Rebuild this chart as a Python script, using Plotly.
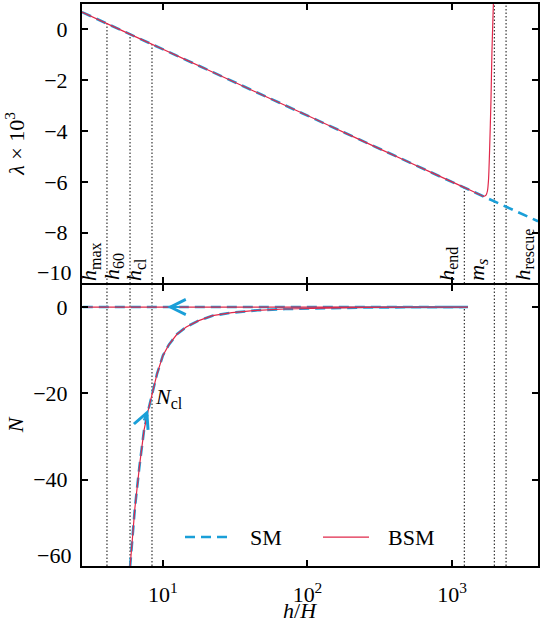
import numpy as np
import plotly.graph_objects as go
from plotly.subplots import make_subplots

# top panel: quartic coupling lambda x 10^3 vs h/H
h_sm = [2.75, 5, 10, 20, 50, 100, 200, 500, 1000, 2000, 3940]
lam_sm = [0.68, 0.0, -0.78, -1.57, -2.61, -3.39, -4.18, -5.22, -6.0, -6.79, -7.55]

h_bsm = [2.75, 5, 10, 20, 50, 100, 200, 500, 1000, 1400, 1550, 1650,
         1720, 1760, 1790, 1820, 1860, 1890, 1935]
lam_bsm = [0.68, 0.0, -0.78, -1.57, -2.61, -3.39, -4.18, -5.22, -6.0, -6.38,
           -6.50, -6.57, -6.52, -6.35, -5.9, -4.77, -2.81, -0.85, 1.1]

# bottom panel: e-folds N along the trajectory (same for SM and BSM)
h_n = [5.8, 5.92, 6.4, 6.9, 7.4, 7.9, 8.4, 9.1, 10.0, 11.0, 12.5, 14.5,
       17.5, 22, 30, 45, 70, 120, 250, 600, 1290, 2.75]
N_n = [-64, -60, -46.5, -36.5, -28.5, -24.0, -20.5, -15.5, -11.2, -8.7,
       -6.3, -4.6, -3.2, -2.0, -1.3, -0.75, -0.45, -0.25, -0.1, -0.04, 0, 0]

# marked scales
SUB = '<sub><span style="font-size:16px">%s</span></sub>'
vline_h = [4.1, 5.92, 8.4, 1217, 1963, 2366]
vline_labels = ["<i>h</i>" + SUB % "max", "<i>h</i>" + SUB % "60",
                "<i>h</i>" + SUB % "cl", "<i>h</i>" + SUB % "end",
                "<i>m</i>" + SUB % "<i>s</i>", "<i>h</i>" + SUB % "rescue"]
vline_top_lam = [0.28, -0.15, -0.57, -6.23, 1, 1]
vline_top_N = [5, 5, 5, 0, 5, 5]

N_cl_h, N_cl = 8.4, -21.0

FONT = "Liberation Serif"
FS = 22
BLUE = "#1a9fd8"
RED = "#e0284a"
DASH = "10px,6px"
DOT = dict(color="#222", width=1.1, dash="1.5px,2px")

fig = make_subplots(rows=2, cols=1, shared_xaxes=True, vertical_spacing=0)

for i, h in enumerate(vline_h):
    fig.add_trace(go.Scatter(x=[h, h], y=[-10, vline_top_lam[i]], mode="lines",
                             line=DOT, showlegend=False, hoverinfo="skip"),
                  row=1, col=1)
    fig.add_trace(go.Scatter(x=[h, h], y=[-60, vline_top_N[i]], mode="lines",
                             line=DOT, showlegend=False, hoverinfo="skip"),
                  row=2, col=1)

fig.add_trace(go.Scatter(x=h_sm, y=lam_sm, mode="lines", name="SM",
                         line=dict(color=BLUE, width=2.6, dash=DASH),
                         showlegend=False), row=1, col=1)
fig.add_trace(go.Scatter(x=h_bsm, y=lam_bsm, mode="lines", name="BSM",
                         line=dict(color=RED, width=1.2, shape="spline", smoothing=0.6),
                         showlegend=False), row=1, col=1)
fig.add_trace(go.Scatter(x=h_n, y=N_n, mode="lines", name="SM",
                         line=dict(color=BLUE, width=2.6, dash=DASH),
                         showlegend=False), row=2, col=1)
fig.add_trace(go.Scatter(x=h_n, y=N_n, mode="lines", name="BSM",
                         line=dict(color=RED, width=1.2),
                         showlegend=False), row=2, col=1)

tickfont = dict(family=FONT, size=FS, color="black")
xcommon = dict(type="log", range=[0.44, 3.595], tickvals=[10, 100, 1000],
               ticktext=["10<sup>1</sup>", "10<sup>2</sup>", "10<sup>3</sup>"],
               ticks="inside", ticklen=6, tickwidth=1.5, tickcolor="black",
               showline=True, linewidth=2, linecolor="black", mirror="ticks",
               showgrid=False, zeroline=False, tickfont=tickfont,
               ticklabelstandoff=8, automargin=False)
ycommon = dict(ticks="inside", ticklen=6, tickwidth=1.5, tickcolor="black",
               showline=True, linewidth=2, linecolor="black", mirror="ticks",
               showgrid=False, zeroline=False, tickfont=tickfont,
               ticklabelstandoff=8, automargin=False)
# panels 2px apart so both border lines land on the same pixel row
split = 0.5009
fig.update_layout(
    xaxis=dict(xcommon, showticklabels=False),
    xaxis2=dict(xcommon, showticklabels=True),
    yaxis=dict(ycommon, domain=[split + 1 / 563, 1], range=[-10, 1],
               tickvals=[0, -2, -4, -6, -8],
               ticktext=["0", "−2", "−4", "−6", "−8"]),
    yaxis2=dict(ycommon, domain=[0, split - 1 / 563], range=[-60, 5],
                tickvals=[0, -20, -40], ticktext=["0", "−20", "−40"]),
    width=540, height=627,
    margin=dict(l=82, r=2, t=4, b=61),
    plot_bgcolor="white", paper_bgcolor="white",
    font=dict(family=FONT, size=FS, color="black"),
    showlegend=False,
)

ann = []
# edge tick labels, lifted above the frame corner
ann.append(dict(xref="paper", yref="y", x=0, y=-10, text="−10", showarrow=False,
                xanchor="right", yanchor="middle", xshift=-9, yshift=11,
                font=tickfont))
ann.append(dict(xref="paper", yref="y2", x=0, y=-60, text="−60", showarrow=False,
                xanchor="right", yanchor="middle", xshift=-9, yshift=11,
                font=tickfont))
# axis titles
ann.append(dict(xref="paper", yref="paper", x=(15 - 82) / 456, y=(566 - 143) / 563,
                text="<i>λ</i> × 10<sup>3</sup>", textangle=-90, showarrow=False,
                xanchor="center", yanchor="middle", font=dict(family=FONT, size=FS)))
ann.append(dict(xref="paper", yref="paper", x=(15 - 82) / 456, y=(566 - 425) / 563,
                text="<i>N</i>", textangle=-90, showarrow=False,
                xanchor="center", yanchor="middle", font=dict(family=FONT, size=FS)))
ann.append(dict(xref="paper", yref="paper", x=(300 - 82) / 456, y=(566 - 611) / 563,
                text="<i>h</i>/<i>H</i>", showarrow=False,
                xanchor="center", yanchor="middle", font=dict(family=FONT, size=FS)))
# labels of the marked scales
for i, h in enumerate(vline_h):
    right = i == len(vline_h) - 1
    ann.append(dict(xref="x", yref="y", x=np.log10(h), y=-10, text=vline_labels[i],
                    textangle=-90, showarrow=False,
                    xanchor="left" if right else "right", yanchor="bottom",
                    xshift=1 if right else -1, yshift=1,
                    font=dict(family=FONT, size=FS)))
ann.append(dict(xref="x2", yref="y2", x=np.log10(N_cl_h) + 0.01, y=N_cl,
                text="<i>N</i>" + SUB % "cl", showarrow=False,
                xanchor="left", yanchor="middle", font=dict(family=FONT, size=FS)))
# direction arrows
ann.append(dict(xref="x2", yref="y2", x=np.log10(10.7), y=0, ax=14, ay=0,
                showarrow=True, arrowhead=5, arrowsize=1.5, arrowwidth=2,
                arrowcolor=BLUE, text=""))
ann.append(dict(xref="x2", yref="y2", x=np.log10(7.9), y=-23.8, ax=-5, ay=12,
                showarrow=True, arrowhead=5, arrowsize=1.5, arrowwidth=2,
                arrowcolor=BLUE, text=""))
# legend
ly = (566 - 537) / 563
ann.append(dict(xref="paper", yref="paper", x=(248 - 82) / 456, y=ly, text="SM",
                showarrow=False, xanchor="left", yanchor="middle",
                font=dict(family=FONT, size=FS)))
ann.append(dict(xref="paper", yref="paper", x=(386 - 82) / 456, y=ly, text="BSM",
                showarrow=False, xanchor="left", yanchor="middle",
                font=dict(family=FONT, size=FS)))
fig.update_layout(annotations=ann)

fig.add_shape(type="line", xref="paper", yref="paper", x0=(185 - 82) / 456,
              x1=(227 - 82) / 456, y0=ly, y1=ly,
              line=dict(color=BLUE, width=2.6, dash=DASH))
fig.add_shape(type="line", xref="paper", yref="paper", x0=(323 - 82) / 456,
              x1=(369 - 82) / 456, y0=ly, y1=ly,
              line=dict(color=RED, width=1.2))

fig.write_html("out.html", config={"displayModeBar": False},
               post_script="document.body.style.margin='0';")
